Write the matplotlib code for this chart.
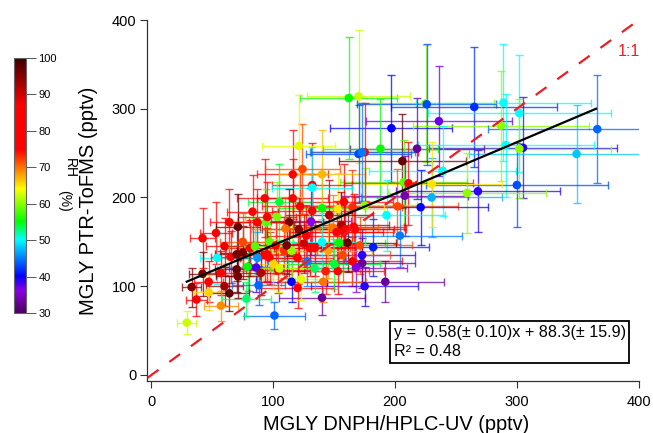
import numpy as np
import matplotlib
matplotlib.use("Agg")
import matplotlib.pyplot as plt
from matplotlib.colors import LinearSegmentedColormap, Normalize
from matplotlib.cm import ScalarMappable

plt.rcParams['font.family'] = ['Liberation Sans', 'DejaVu Sans']

# values
dnph = [162,170,225,226,289,265,302,236,197,287,366,305,302,291,349,218,188,206,239,300,
        268,259,230,207,211,230,208,202,221,175,193,204,182,171,173,165,173,168,175,192,
        101,140,120,115,123,141,104,134,143,153,157,154,161,109,115,97,93,130,134,111,
        166,167,165,158,153,146,140,132,122,105,93,116,116,132,132,140,94,103,95,113,
        121,131,149,152,156,159,158,127,97,102,42,53,64,71,83,87,54,65,70,75,
        81,87,95,70,80,86,79,29,37,33,42,47,47,57,60,64,57,78,71,88,
        110,85,100,125,140,75,90,105,120,145,60,150,128,124,121,175,170,173]
ptr = [312,314,306,305,307,302,295,286,278,281,277,256,255,259,249,255,255,241,230,214,
       207,205,200,217,216,215,202,190,189,191,180,157,144,146,135,128,126,121,100,105,
       67,87,98,105,108,105,118,120,117,117,135,149,149,140,140,132,135,143,143,146,
       167,164,189,195,187,180,188,185,190,195,199,199,226,214,211,226,172,178,178,172,
       164,173,166,161,169,164,161,157,150,146,154,160,172,167,184,172,132,133,136,138,
       143,132,136,119,122,121,122,59,85,99,114,105,93,115,100,92,78,86,111,101,
       165,145,125,148,150,150,115,120,132,140,145,125,128,232,258,251,249,251]
rh = [55,62,60,43,50,42,50,37,40,60,44,39,60,50,48,33,55,97,50,43,
      39,60,47,58,76,65,34,72,40,60,50,45,41,72,39,76,33,36,39,33,
      44,33,82,40,63,70,82,53,74,80,72,55,97,73,60,80,80,80,80,96,
      80,76,73,85,65,92,55,80,80,54,80,80,80,80,50,67,58,59,81,96,
      95,36,70,80,92,80,80,76,58,85,82,82,82,97,80,80,50,80,96,96,
      80,46,80,97,36,38,55,62,81,95,96,82,66,80,93,97,69,53,96,44,
      70,58,66,90,50,72,92,62,75,68,88,54,45,72,63,80,43,45]
dnph_err = [40,42,56,57,72,68,75,60,50,72,90,77,75,72,88,55,47,52,60,75,
            67,65,58,52,53,58,52,50,55,43,48,51,46,43,43,41,43,42,44,48,
            25,35,30,29,31,35,26,33,36,38,39,38,40,27,29,24,23,33,33,28,
            41,42,41,40,38,36,35,33,31,26,23,29,29,33,33,35,24,26,24,28,
            30,33,37,38,39,40,40,32,24,25,10,13,16,18,21,22,14,16,18,19,
            20,22,24,18,20,22,20,8,9,8,11,12,12,14,15,16,14,20,18,22,
            28,21,25,31,35,19,23,26,30,36,15,38,32,31,30,44,43,43]
ptr_err = [69,75,66,68,66,68,66,62,60,62,61,57,56,58,55,57,56,53,51,47,
           46,45,44,48,47,48,45,42,42,42,40,35,32,32,30,28,28,27,22,23,
           15,19,22,23,24,23,26,26,26,26,30,33,33,31,31,29,30,32,31,32,
           37,36,42,43,41,40,41,41,42,43,44,44,50,47,46,50,38,39,39,38,
           36,38,37,35,37,36,35,35,33,32,34,35,38,37,41,38,29,29,30,30,
           32,29,30,26,27,27,27,13,19,22,25,23,20,25,22,20,17,19,24,22,
           36,32,28,33,33,33,25,26,29,31,32,28,28,51,57,55,55,55]
rh_colors = [(30,'#4a0060'),(36,'#8a00e0'),(40,'#0000ff'),(50,'#00ffff'),(55,'#00ff00'),
             (64,'#ffff00'),(75,'#ff0000'),(87,'#ff0000'),(100,'#3c0000')]
rh_ticks = [30,40,50,60,70,80,90,100]
slope = 0.58
intercept = 88.3
fit_ends = [29, 365]
one_to_one = [-3, 400]

W, H = 653, 433
fig = plt.figure(figsize=(W/100, H/100), dpi=100)
ax = fig.add_axes([147.4/W, (H-381)/H, (638.7-147.4)/W, (381-20)/H])

cmap = LinearSegmentedColormap.from_list('rh', [((v-30)/70, c) for v, c in rh_colors])
norm = Normalize(30, 100)

for x, y, r, xe, ye in zip(dnph, ptr, rh, dnph_err, ptr_err):
    ax.errorbar(x, y, xerr=xe, yerr=ye, color=cmap(norm(r)), lw=1.0, capsize=3.2,
                capthick=1.0, alpha=0.75, zorder=2)
ax.scatter(dnph, ptr, c=rh, cmap=cmap, norm=norm, s=38, linewidths=0, zorder=3)

ax.plot(one_to_one, one_to_one, color='#ee1c25', lw=1.6, dashes=(6, 6), zorder=4)
fx = np.array(fit_ends)
ax.plot(fx, slope*fx + intercept, color='black', lw=1.6, zorder=5)

ax.set_xlim(-3.3, 400)
ax.set_ylim(-6.8, 400)
ax.spines['top'].set_visible(False)
ax.spines['right'].set_visible(False)
for s in ['left', 'bottom']:
    ax.spines[s].set_color('#333333')
    ax.spines[s].set_linewidth(0.9)
ax.set_xticks([0,100,200,300,400])
ax.set_yticks([0,100,200,300,400])
ax.tick_params(length=5, width=0.8, color='#333333', labelsize=10.5, pad=3)
ax.tick_params(axis='x', pad=5)
ax.patch.set_alpha(0)

fig.text(396/W, 1-424/H, 'MGLY DNPH/HPLC-UV (pptv)', fontsize=14.4, ha='center', va='center')
fig.text(89/W, 1-201/H, 'MGLY PTR-ToFMS (pptv)', fontsize=14.5, rotation=90, ha='center', va='center')
fig.text(629/W, 1-52/H, '1:1', color='#ee1c25', fontsize=11.5, ha='center', va='center')

# fit box
box = plt.Rectangle((390/W, 1-363/H), 239/W, 42/H, transform=fig.transFigure,
                    fc='white', ec='black', lw=1.3, zorder=6)
fig.add_artist(box)
fig.text(394/W, 1-333/H, 'y =  0.58(\u00b1 0.10)x + 88.3(\u00b1 15.9)', fontsize=11.6, va='center', zorder=7)
fig.text(394/W, 1-351/H, 'R\u00b2 = 0.48', fontsize=11.6, va='center', zorder=7)

# colour scale
cax = fig.add_axes([14/W, (H-313)/H, 12/W, 255/H])
cb = fig.colorbar(ScalarMappable(norm=norm, cmap=cmap), cax=cax)
cb.set_ticks(rh_ticks)
cb.outline.set_edgecolor('#666666')
cax.tick_params(length=7, width=0.7, color='#555555', labelsize=8, pad=2)
fig.text(70/W, 1-168/H, 'RH', fontsize=10, rotation=270, ha='center', va='center')
fig.text(64/W, 1-201/H, '(%)', fontsize=10, rotation=270, ha='center', va='center')

fig.savefig('out.png', dpi=100)
